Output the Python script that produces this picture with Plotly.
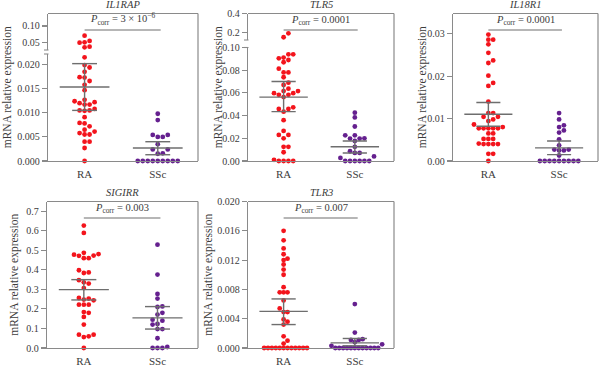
import numpy as np
import plotly.graph_objects as go

# ---------------- data ----------------
genes = ["IL1RAP", "TLR5", "IL18R1", "SIGIRR", "TLR3"]
groups = ["RA", "SSc"]
p_values = ["3 × 10<sup>−6</sup>", "0.0001", "0.0001", "0.003", "0.007"]

il1rap_ra = [0.0704, 0.0541, 0.050, 0.049, 0.0367, 0.0347,
             0.0215, 0.0199, 0.0194, 0.0185, 0.0174, 0.0173, 0.0166, 0.0158, 0.0147,
             0.0127, 0.0124, 0.0122, 0.0120, 0.0117, 0.0117, 0.0108, 0.0105, 0.0105, 0.0104,
             0.0091, 0.0079, 0.0078, 0.0072, 0.0065, 0.0061, 0.0058, 0.0055, 0.0055,
             0.0040, 0.0040, 0.0027, 0.0]
il1rap_ssc = [0.0098, 0.0085, 0.0054, 0.0050, 0.0050, 0.0054, 0.0035, 0.0024, 0.0024,
              0.0016, 0.0015, 0, 0, 0, 0, 0, 0, 0, 0, 0]
tlr5_ra = [0.189, 0.147, 0.094, 0.094, 0.0911, 0.0905, 0.089, 0.087, 0.0813, 0.078, 0.078,
           0.0738, 0.069, 0.067, 0.0637, 0.0616, 0.0616, 0.0598, 0.0598, 0.0583, 0.0583,
           0.0563, 0.0473, 0.0458, 0.0458, 0.0435, 0.036, 0.0265, 0.023, 0.023, 0.020,
           0.0125, 0.0125, 0.0077, 0.001, 0.0, 0.0, 0.0, 0.0]
tlr5_ssc = [0.0426, 0.0384, 0.0304, 0.0226, 0.0226, 0.0198, 0.0198, 0.0200, 0.0176, 0.0125,
            0.0086, 0.0071, 0.0071, 0.0040, 0.0027, 0, 0, 0, 0, 0, 0]
il18r1_ra = [0.0298, 0.0286, 0.0286, 0.0275, 0.0255, 0.0237, 0.0231, 0.0201, 0.0184, 0.0177,
             0.0140, 0.0113, 0.0113, 0.0104, 0.0104, 0.0098, 0.0094, 0.0086, 0.0080, 0.0077,
             0.0077, 0.0077, 0.0077, 0.0077, 0.0065, 0.0065, 0.0052, 0.0052, 0.0052, 0.0041,
             0.0040, 0.0040, 0.0040, 0.0040, 0.0017, 0.0017, 0.0]
il18r1_ssc = [0.0113, 0.0098, 0.0084, 0.0080, 0.0072, 0.0067, 0.0051, 0.0037, 0.0027, 0.0027,
              0.0025, 0.0025, 0.0013, 0, 0, 0, 0, 0, 0, 0, 0, 0]
sigirr_ra = [0.627, 0.589, 0.487, 0.481, 0.478, 0.473, 0.472, 0.46, 0.46, 0.398, 0.387, 0.384,
             0.347, 0.336, 0.330, 0.307, 0.256, 0.253, 0.248, 0.244, 0.222, 0.222, 0.222,
             0.184, 0.180, 0.159, 0.120, 0.068, 0.068, 0.060, 0.056, 0.0]
sigirr_ssc = [0.529, 0.376, 0.277, 0.253, 0.213, 0.210, 0.180, 0.171, 0.145, 0.140, 0.123,
              0.120, 0.097, 0.097, 0.050, 0.005, 0, 0, 0]
tlr3_ra = [0.0160, 0.0147, 0.0136, 0.0128, 0.0122, 0.0120, 0.0114, 0.0107, 0.0100, 0.0083,
           0.0076, 0.0076, 0.0076, 0.0065, 0.0054, 0.0049, 0.0049, 0.0039, 0.0036, 0.0032,
           0.0016, 0.0010, 0.0006, 0, 0, 0, 0, 0, 0, 0, 0, 0, 0, 0, 0]
tlr3_ssc = [0.0060, 0.0021, 0.0012, 0.0011, 0.0011, 0.0008, 0.0005, 0.0003,
            0, 0, 0, 0, 0, 0, 0, 0, 0, 0, 0, 0]

# mean and error bar (lower, upper) per group [RA, SSc]
il1rap_mean, il1rap_lo, il1rap_hi = [0.01535, 0.0027], [0.0105, 0.0013], [0.0202, 0.0040]
tlr5_mean, tlr5_lo, tlr5_hi = [0.0563, 0.0125], [0.0435, 0.0071], [0.0700, 0.0176]
il18r1_mean, il18r1_lo, il18r1_hi = [0.0110, 0.0031], [0.0082, 0.0015], [0.0138, 0.0047]
sigirr_mean, sigirr_lo, sigirr_hi = [0.299, 0.154], [0.246, 0.097], [0.350, 0.212]
tlr3_mean, tlr3_lo, tlr3_hi = [0.0050, 0.0007], [0.0032, 0.0003], [0.0067, 0.0013]

il1rap_ticks = [0, 0.005, 0.010, 0.015, 0.020]
il1rap_ticktext = ["0.000", "0.005", "0.010", "0.015", "0.020"]
il1rap_up_ticks, il1rap_up_ticktext = [0.05, 0.10], ["0.05", "0.10"]
tlr5_ticks = [0, 0.02, 0.04, 0.06, 0.08, 0.10]
tlr5_ticktext = ["0.00", "0.02", "0.04", "0.06", "0.08", "0.10"]
tlr5_up_ticks, tlr5_up_ticktext = [0.2, 0.4], ["0.2", "0.4"]
il18r1_ticks, il18r1_ticktext = [0, 0.01, 0.02, 0.03], ["0.00", "0.01", "0.02", "0.03"]
sigirr_ticks = [0, 0.1, 0.2, 0.3, 0.4, 0.5, 0.6, 0.7]
sigirr_ticktext = ["0.0", "0.1", "0.2", "0.3", "0.4", "0.5", "0.6", "0.7"]
tlr3_ticks = [0, 0.004, 0.008, 0.012, 0.016, 0.020]
tlr3_ticktext = ["0.000", "0.004", "0.008", "0.012", "0.016", "0.020"]

# ---------------- layout / style ----------------
W, H = 600, 366
FONT = "Liberation Serif"
GRAY = "#8a8a8a"
TXT = "#3c3c3c"
COLORS = ["#f3141c", "#65208f"]
XR = [-0.5, 1.55]

panels = [
    dict(ra=il1rap_ra, ssc=il1rap_ssc, mean=il1rap_mean, lo=il1rap_lo, hi=il1rap_hi,
         L=48, R=198, T=13.5, B=161, ytx=7, step=5.0,
         segs=[dict(top=54, bot=161, rng=[0, 0.0222], tv=il1rap_ticks, tt=il1rap_ticktext),
               dict(top=13.5, bot=50, rng=[0.0264, 0.1383], tv=il1rap_up_ticks, tt=il1rap_up_ticktext)],
         split=0.03),
    dict(ra=tlr5_ra, ssc=tlr5_ssc, mean=tlr5_mean, lo=tlr5_lo, hi=tlr5_hi,
         L=248, R=394, T=13.5, B=161, ytx=218, step=4.8,
         segs=[dict(top=47.5, bot=161, rng=[0, 0.100], tv=tlr5_ticks, tt=tlr5_ticktext),
               dict(top=13.5, bot=40, rng=[0.118, 0.4], tv=tlr5_up_ticks, tt=tlr5_up_ticktext)],
         split=0.12),
    dict(ra=il18r1_ra, ssc=il18r1_ssc, mean=il18r1_mean, lo=il18r1_lo, hi=il18r1_hi,
         L=453, R=598, T=13.5, B=161, ytx=422, step=4.8,
         segs=[dict(top=13.5, bot=161, rng=[0, 0.03476], tv=il18r1_ticks, tt=il18r1_ticktext)],
         split=None),
    dict(ra=sigirr_ra, ssc=sigirr_ssc, mean=sigirr_mean, lo=sigirr_lo, hi=sigirr_hi,
         L=47, R=198, T=201.5, B=348, ytx=15, step=4.9,
         segs=[dict(top=201.5, bot=348, rng=[0, 0.750], tv=sigirr_ticks, tt=sigirr_ticktext)],
         split=None),
    dict(ra=tlr3_ra, ssc=tlr3_ssc, mean=tlr3_mean, lo=tlr3_lo, hi=tlr3_hi,
         L=248, R=394, T=201.5, B=348, ytx=209, step=3.9,
         segs=[dict(top=201.5, bot=348, rng=[0, 0.020], tv=tlr3_ticks, tt=tlr3_ticktext)],
         split=None),
]


def px(v):
    return v / W


def py(v):
    return 1 - v / H


def seg_of(p, v):
    if p["split"] is not None and v >= p["split"]:
        return 1
    return 0


def val_to_px(seg, v):
    lo, hi = seg["rng"]
    return seg["bot"] - (v - lo) / (hi - lo) * (seg["bot"] - seg["top"])


def swarm(p, values):
    """Greedy beeswarm in pixel space; returns horizontal pixel offsets."""
    step = p["step"]
    dmin = step * 0.95
    vals = np.asarray(values, float)
    order = np.argsort(vals, kind="stable")
    placed = []
    offs = np.zeros(len(vals))
    cands = [0] + [s * j for j in range(1, 40) for s in (1, -1)]
    for i in order:
        seg = p["segs"][seg_of(p, vals[i])]
        y = val_to_px(seg, vals[i])
        for c in cands:
            x = c * step
            if all((x - a) ** 2 + (y - b) ** 2 >= dmin ** 2 for a, b in placed):
                break
        placed.append((x, y))
        offs[i] = x
    return offs


fig = go.Figure()
layout = dict(width=W, height=H, margin=dict(l=0, r=0, t=0, b=0, autoexpand=False),
              paper_bgcolor="white", plot_bgcolor="white", showlegend=False,
              font=dict(family=FONT, color=TXT, size=10))
shapes, annotations = [], []
extra = 6

for k, p in enumerate(panels):
    n = k + 1
    xpx_per_unit = (p["R"] - p["L"]) / (XR[1] - XR[0])
    ax_ids = []
    for si, seg in enumerate(p["segs"]):
        if si == 0:
            idx = n
        else:
            idx = extra
            extra += 1
        ax_ids.append(idx)
        xs = "" if idx == 1 else str(idx)
        layout["xaxis" + xs] = dict(
            domain=[px(p["L"]), px(p["R"])], range=XR, anchor="y" + xs,
            showgrid=False, zeroline=False, fixedrange=True, automargin=False,
            showline=(si == 0), linecolor=GRAY, linewidth=1.2,
            tickvals=[0, 1], ticktext=groups, ticks="", showticklabels=(si == 0),
            ticklabelstandoff=3,
            tickfont=dict(family=FONT, size=11, color=TXT))
        layout["yaxis" + xs] = dict(
            domain=[py(seg["bot"]), py(seg["top"])], range=seg["rng"], anchor="x" + xs,
            showgrid=False, zeroline=False, fixedrange=True, automargin=False,
            showline=True, linecolor=GRAY, linewidth=1.2,
            ticks="outside", ticklen=5, tickcolor=GRAY, tickwidth=1.1,
            tickvals=seg["tv"], ticktext=seg["tt"],
            tickfont=dict(family=FONT, size=10, color=TXT))
        # end caps of a broken axis
        if len(p["segs"]) > 1:
            cap_y = seg["top"] if si == 0 else seg["bot"]
            shapes.append(dict(type="line", xref="paper", yref="paper",
                               x0=px(p["L"] - 4), x1=px(p["L"] + 0.5),
                               y0=py(cap_y), y1=py(cap_y),
                               line=dict(color=GRAY, width=1.1)))

    # points
    for g, vals in enumerate([p["ra"], p["ssc"]]):
        offs = swarm(p, vals)
        for si in range(len(p["segs"])):
            sel = [i for i, v in enumerate(vals) if seg_of(p, v) == si]
            if not sel:
                continue
            xs = "" if ax_ids[si] == 1 else str(ax_ids[si])
            fig.add_trace(go.Scatter(
                x=[g + offs[i] / xpx_per_unit for i in sel], y=[vals[i] for i in sel],
                mode="markers", xaxis="x" + xs, yaxis="y" + xs, cliponaxis=False,
                marker=dict(size=4.8, color=COLORS[g], line=dict(width=0)),
                hoverinfo="skip"))

    # mean +- error lines
    lx, ly = [], []
    for g in range(2):
        m, lo, hi = p["mean"][g], p["lo"][g], p["hi"][g]
        lx += [g - 0.34, g + 0.34, None, g - 0.17, g + 0.17, None,
               g - 0.17, g + 0.17, None, g, g, None]
        ly += [m, m, None, lo, lo, None, hi, hi, None, lo, hi, None]
    xs0 = "" if n == 1 else str(n)
    fig.add_trace(go.Scatter(x=lx, y=ly, mode="lines", xaxis="x" + xs0, yaxis="y" + xs0,
                             line=dict(color="#6e6e6e", width=1.4), hoverinfo="skip",
                             cliponaxis=False))

    # frame top & right
    shapes.append(dict(type="line", xref="paper", yref="paper", x0=px(p["L"]), x1=px(p["R"]),
                       y0=py(p["T"]), y1=py(p["T"]), line=dict(color=GRAY, width=1.2)))
    shapes.append(dict(type="line", xref="paper", yref="paper", x0=px(p["R"]), x1=px(p["R"]),
                       y0=py(p["T"]), y1=py(p["B"]), line=dict(color=GRAY, width=1.2)))

    # significance bar and text
    bar_y = p["T"] + 16.5
    shapes.append(dict(type="line", xref="x" + xs0, yref="paper", x0=0.0, x1=1.04,
                       y0=py(bar_y), y1=py(bar_y), line=dict(color="#6e6e6e", width=1.2)))
    annotations.append(dict(xref="x" + xs0, yref="paper", x=0.52, y=py(bar_y - 1.0),
                            yanchor="bottom", xanchor="center", showarrow=False,
                            text="<i>P</i><sub>corr</sub> = " + p_values[k],
                            font=dict(family=FONT, size=10.5, color=TXT)))
    # gene title
    annotations.append(dict(xref="paper", yref="paper", x=px((p["L"] + p["R"]) / 2),
                            y=py(p["T"] - 1.5), yanchor="bottom", xanchor="center",
                            showarrow=False, text="<i>" + genes[k] + "</i>",
                            font=dict(family=FONT, size=10.5, color=TXT)))
    # y title
    annotations.append(dict(xref="paper", yref="paper", x=px(p["ytx"]),
                            y=py((p["T"] + p["B"]) / 2), textangle=-90,
                            xanchor="center", yanchor="middle", showarrow=False,
                            text="mRNA relative expression",
                            font=dict(family=FONT, size=11.5, color=TXT)))

layout["shapes"] = shapes
layout["annotations"] = annotations
fig.update_layout(**layout)
fig.write_html("out.html", config={"displayModeBar": False, "staticPlot": True},
               post_script="document.body.style.margin='0px';document.body.style.padding='0px';")
